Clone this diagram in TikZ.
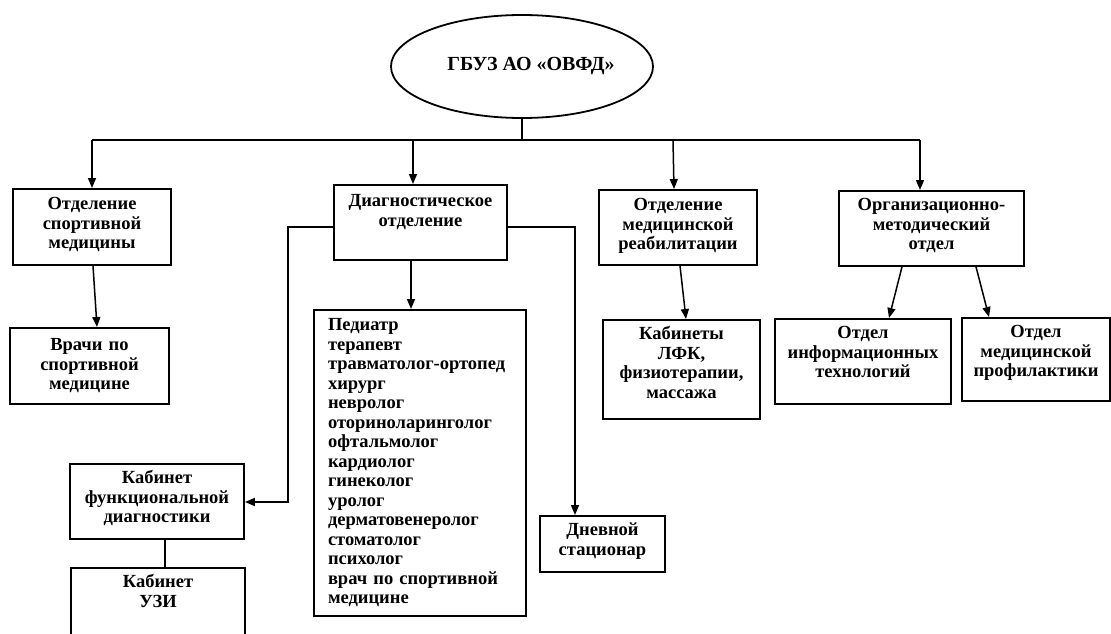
\documentclass[tikz,border=0pt]{standalone}
\usepackage{fontspec}
\setmainfont{Liberation Serif}
\usetikzlibrary{arrows.meta,shapes.geometric}
\tikzset{
  txt/.style={font=\fontsize{18.5}{19.5}\selectfont\bfseries},
  box/.style={txt, draw, line width=1.8pt, inner ysep=0pt, inner xsep=1pt, anchor=north, align=center},
  arr/.style={line width=1.5pt, -{Triangle[length=10pt,width=8pt]}},
  ln/.style={line width=1.5pt},
}
\begin{document}
\begin{tikzpicture}[x=1pt,y=-1pt]
\useasboundingbox (0,0) rectangle (1111,634);
\clip (0,0) rectangle (1111,634);
% top
\node[draw, ellipse, line width=1.8pt, minimum width=256pt, minimum height=103pt, inner sep=0pt,
      font=\fontsize{20}{22}\selectfont\bfseries] (top) at (522,66.5) {\hspace*{18pt}ГБУЗ АО «ОВФД»};
% level 1
\node[box, text width=156pt, text height=21pt, text depth=55pt] (b1) at (92,188) {Отделение\\спортивной\\медицины};
\node[box, text width=171pt, text height=22pt, text depth=53pt] (b2) at (420.5,184) {Диагностическое\\отделение};
\node[box, text width=156pt, text height=21pt, text depth=54pt] (b3) at (678,189) {Отделение\\медицинской\\реабилитации};
\node[box, text width=183pt, text height=20pt, text depth=55pt] (b4) at (931.5,190) {Организационно-\\методический\\отдел};
% level 2
\node[box, text width=157pt, text height=23pt, text depth=53pt] (vr) at (89.5,327) {Врачи по\\спортивной\\медицине};
\node[box, align=left, text width=184pt, inner xsep=14pt, text height=21pt, text depth=285pt] (list) at (420,309) {Педиатр\\терапевт\\травматолог-ортопед\\хирург\\невролог\\оториноларинголог\\офтальмолог\\кардиолог\\гинеколог\\уролог\\дерматовенеролог\\стоматолог\\психолог\\врач по спортивной\\медицине};
\node[box, text width=155pt, text height=20pt, text depth=79pt] (lfk) at (681.5,319) {Кабинеты\\ЛФК,\\физиотерапии,\\массажа};
\node[box, text width=174pt, text height=20pt, text depth=65pt] (it) at (863,318) {Отдел\\информационных\\технологий};
\node[box, text width=146pt, text height=20pt, text depth=63pt] (prof) at (1036,317) {Отдел\\медицинской\\профилактики};
\node[box, text width=172pt, text height=20pt, text depth=55pt] (kf) at (157,463) {Кабинет\\функциональной\\диагностики};
\node[box, text width=172pt, text height=20pt, text depth=70pt] (uzi) at (158,567) {Кабинет\\УЗИ};
\node[box, text width=123pt, text height=20pt, text depth=36pt] (dn) at (602.5,515) {Дневной\\стационар};
% bus
\coordinate (jt) at (522,140);
\coordinate (j1) at (92,140);
\coordinate (j2) at (413,140);
\coordinate (j3) at (673,140);
\coordinate (j4) at (920,140);
\draw[ln] (top.south) -- (jt);
\draw[ln] (j1) -- (j4);
\draw[arr] (j1) -- (j1 |- b1.north);
\draw[arr] (j2) -- (j2 |- b2.north);
\draw[arr] (j3) -- ([xshift=1pt]j3 |- b3.north);
\draw[arr] (j4) -- (j4 |- b4.north);
% level 1 -> level 2
\draw[arr] ([xshift=1pt]b1.south) -- ([xshift=7.5pt]vr.north);
\draw[arr] ([xshift=-9.5pt]b2.south) -- ([xshift=-9pt]list.north);
\draw[arr] ([xshift=2pt]b3.south) -- ([xshift=4.5pt]lfk.north);
\draw[arr] ([xshift=-29.5pt]b4.south) -- ([xshift=26pt]it.north);
\draw[arr] ([xshift=44.5pt]b4.south) -- ([xshift=-47pt]prof.north);
% side branches of diagnostic department
\coordinate (dl) at (288,227);
\coordinate (dr) at (575,227);
\coordinate (ka) at (244,502);
\draw[arr] (b2.west |- dl) -- (dl) |- (kf.east |- ka);
\draw[arr] (b2.east |- dr) -- (dr) -- (dr |- dn.north);
\coordinate (kx) at (165,0);
\draw[ln] (kf.south -| kx) -- (uzi.north -| kx);
\end{tikzpicture}
\end{document}
